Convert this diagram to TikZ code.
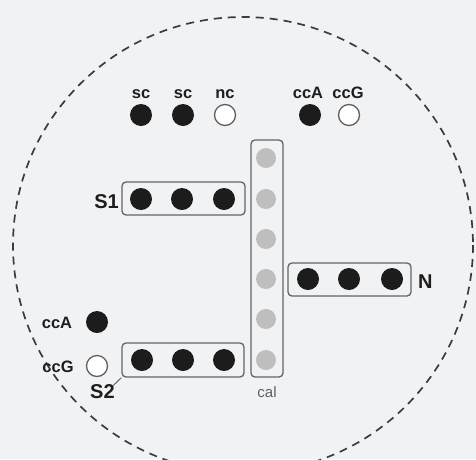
\documentclass[tikz,border=0pt]{standalone}
\usepackage{fontspec}
\setmainfont{Liberation Sans}
\definecolor{bgcol}{RGB}{241,242,244}
\definecolor{dotblack}{RGB}{28,28,28}
\definecolor{ringgray}{RGB}{95,95,95}
\definecolor{calgray}{RGB}{190,190,190}
\definecolor{boxgray}{RGB}{100,100,100}
\definecolor{textdark}{RGB}{30,30,30}
\definecolor{dashgray}{RGB}{60,60,60}
\begin{document}
\begin{tikzpicture}[x=1pt, y=-1pt,
    dot/.style={circle, fill=dotblack, inner sep=0pt, minimum size=22pt},
    opendot/.style={circle, draw=ringgray, line width=1.3pt, fill=white, inner sep=0pt, minimum size=21pt},
    caldot/.style={circle, fill=calgray, inner sep=0pt, minimum size=20pt},
    grpbox/.style={draw=boxgray, line width=1.3pt, rounded corners=4pt, inner sep=0pt},
    lab/.style={font=\bfseries\fontsize{16.5}{16.5}\selectfont, text=textdark, inner sep=0pt},
    biglab/.style={font=\bfseries\fontsize{20}{20}\selectfont, text=textdark, inner sep=0pt},
    callab/.style={font=\fontsize{15}{15}\selectfont, text=ringgray, inner sep=0pt}]

    % --- Background and frame ---
    \path[fill=bgcol, use as bounding box] (0,0) rectangle (476,459);
    \draw[dashgray, line width=1.7pt, dash pattern=on 8pt off 6pt] (243,245) ellipse (230 and 228);

    % --- Top row ---
    \node[lab, anchor=base] (sca) at (141,98) {sc};
    \node[lab, anchor=base] (scb) at (183,98) {sc};
    \node[lab, anchor=base] (nc) at (225,98) {nc};
    \node[lab, anchor=base] (ccat) at (308,98) {ccA};
    \node[lab, anchor=base] (ccgt) at (348,98) {ccG};
    \node[dot] (dsca) at (141,115) {};
    \node[dot] (dscb) at (183,115) {};
    \node[opendot] (dnc) at (225,115) {};
    \node[dot] (dccat) at (310,115) {};
    \node[opendot] (dccgt) at (349,115) {};

    % --- Calibration column ---
    \node[grpbox, minimum width=32pt, minimum height=237pt] (calbox) at (267,258.5) {};
    \foreach \y [count=\i] in {158,199,239,279,319,360}
        \node[caldot] (cal-\i) at (266,\y) {};
    \node[callab, anchor=base] (callab) at (267,397) {cal};

    % --- S1 ---
    \node[grpbox, minimum width=123pt, minimum height=33pt] (s1box) at (183.5,198.5) {};
    \foreach \x [count=\i] in {141,182,224}
        \node[dot] (s1-\i) at (\x,199) {};
    \node[biglab, anchor=base east] (s1lab) at (119,208) {S1};

    % --- N ---
    \node[grpbox, minimum width=123pt, minimum height=33pt] (nbox) at (349.5,279.5) {};
    \foreach \x [count=\i] in {308,349,392}
        \node[dot] (n-\i) at (\x,279) {};
    \node[biglab, anchor=base west] (nlab) at (418,288) {N};

    % --- S2 and left pair ---
    \node[grpbox, minimum width=122pt, minimum height=34pt] (s2box) at (183,360) {};
    \foreach \x [count=\i] in {142,183,224}
        \node[dot] (s2-\i) at (\x,360) {};
    \node[biglab, anchor=base west] (s2lab) at (90,398) {S2};
    \draw[boxgray, line width=1pt] (s2box.south west) -- ([shift={(-2,2)}]s2lab.north east);

    \node[lab, anchor=base] (ccal) at (57,328) {ccA};
    \node[lab, anchor=base] (ccgl) at (58,372) {ccG};
    \node[dot] (dccal) at (97,322) {};
    \node[opendot] (dccgl) at (97,366) {};

\end{tikzpicture}
\end{document}
